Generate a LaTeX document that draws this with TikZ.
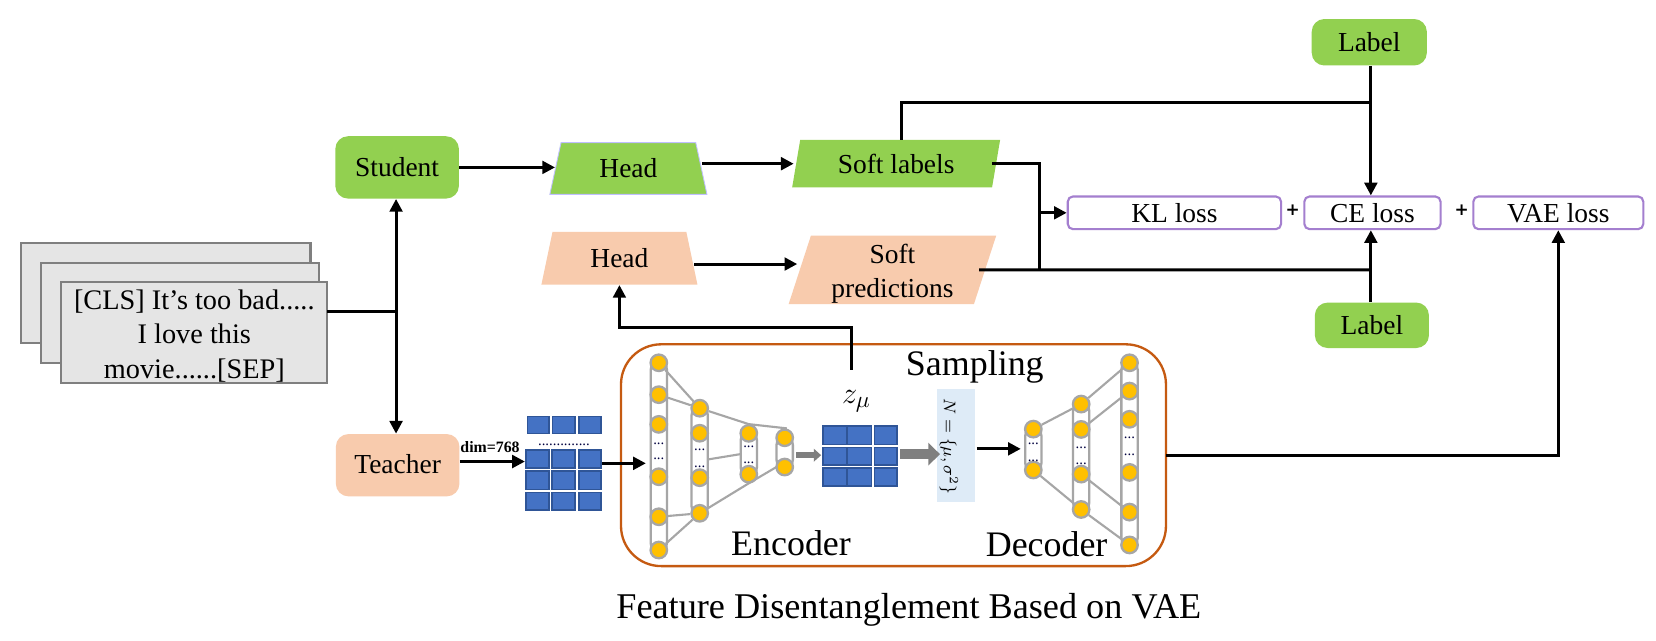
\documentclass[tikz,border=0pt]{standalone}
\usepackage{fontspec}
\setmainfont{Liberation Serif}
\newfontfamily\plusfont{DejaVu Sans}
\usetikzlibrary{arrows.meta,shapes.geometric}
\definecolor{grn}{HTML}{92D050}
\definecolor{pch}{HTML}{F8CBAD}
\definecolor{purp}{HTML}{A47FCF}
\definecolor{nbord}{HTML}{A6A6A6}
\definecolor{nfill}{HTML}{FFC000}
\definecolor{cellf}{HTML}{4472C4}
\definecolor{cellb}{HTML}{2F5597}
\definecolor{ora}{HTML}{C55A11}
\definecolor{arrg}{HTML}{7F7F7F}
\definecolor{sampb}{HTML}{DEEBF7}
\tikzset{
  x=0.5pt,y=-0.5pt,
  txt/.style={font=\fontsize{13}{16}\selectfont,align=center,inner sep=0pt,text=black},
  big/.style={font=\fontsize{17}{20}\selectfont,inner sep=0pt,text=black},
  docbox/.style={draw=arrg,fill=black!10,line width=1pt},
  rbox/.style={txt,rounded corners=6pt,minimum width=58.5pt,minimum height=29.5pt},
  lossbox/.style={txt,draw=purp,fill=white,line width=1pt,rounded corners=2.5pt,minimum height=15.5pt},
  trap/.style={txt,trapezium,trapezium stretches=true,minimum width=74.5pt,minimum height=24.5pt,trapezium left angle=76,trapezium right angle=76},
  para/.style={txt,trapezium,trapezium stretches=true,trapezium left angle=76,trapezium right angle=104},
  conn/.style={line width=1.4pt,black},
  arr/.style={conn,-{Triangle[length=6pt,width=6pt]}},
  biarr/.style={conn,{Triangle[length=6pt,width=6pt]}-{Triangle[length=6pt,width=6pt]}},
  neu/.style={circle,draw=nbord,fill=nfill,line width=1.1pt,minimum size=7.8pt,inner sep=0pt},
  caps/.style={draw=nbord,fill=white,line width=1.1pt,rounded corners=3.8pt},
  nlink/.style={draw=nbord,line width=1pt},
  cell/.style={draw=cellb,fill=cellf,line width=0.7pt},
  vdots/.style={font=\fontsize{7}{8}\selectfont,inner sep=0pt,anchor=base,text=black!75!blue},
  plusn/.style={font=\plusfont\bfseries\fontsize{8}{9}\selectfont,inner sep=0pt}
}
\newcommand{\capsule}[3]{\draw[caps] (#1-7.7,#2-1) rectangle (#1+7.7,#3+1);}
\newcommand{\cellr}[4]{\draw[cell] (#1+0.7,#2+0.7) rectangle (#3-0.7,#4-0.7);}
\begin{document}
\begin{tikzpicture}
\useasboundingbox (0,0) rectangle (1568,606);
\fill[white] (0,0) rectangle (1568,606);

% input documents
\draw[docbox] (20,230) rectangle (294,325);
\draw[docbox] (39,249) rectangle (302,344);
\draw[docbox] (58,267) rectangle (310,363);
\node[txt,font=\fontsize{13.4}{16.4}\selectfont] (doc) at (184,318) {[CLS] It’s too bad.....\\I love this\\movie......[SEP]};
\coordinate (docout) at (310,295);
\coordinate (split) at (375,295);

% main boxes
\node[rbox,fill=grn] (student) at (376,158.5) {\raisebox{-0.4pt}{Student}};
\node[rbox,fill=pch] (teacher) at (376.5,440.5) {\raisebox{1.5pt}{Teacher}};
\node[trap,fill=grn,draw=blue!25!white,line width=0.4pt] (headg) at (595,159.5) {Head};
\node[trap,fill=pch,minimum width=74pt,minimum height=25pt] (headp) at (586.5,244.5) {\raisebox{-0.5pt}{Head}};
\node[para,fill=grn,minimum width=98.5pt,minimum height=22.5pt] (softl) at (848.5,155) {Soft labels};
\node[para,fill=pch,minimum width=99pt,minimum height=32.5pt] (softp) at (845,255.5) {\rule{0pt}{13pt}Soft\\predictions};
\node[rbox,fill=grn,minimum width=54.5pt,minimum height=22pt] (labt) at (1296.5,40) {Label};
\node[rbox,fill=grn,minimum width=54pt,minimum height=21.5pt] (labb) at (1299,308) {Label};
\node[lossbox,minimum width=101pt] (kl) at (1112,201.5) {KL loss};
\node[lossbox,minimum width=64.5pt] (ce) at (1299.5,201.5) {CE loss};
\node[lossbox,minimum width=80.5pt] (vae) at (1475.5,201.5) {VAE loss};
\node[plusn] (p1) at (1224,199) {+};
\node[plusn] (p2) at (1384,199) {+};

% VAE container
\draw[draw=ora,line width=1.1pt,fill=white,rounded corners=19pt] (588,326) rectangle (1104,536);
\coordinate (vaeout) at (1104,431);
\node[big] (sampling) at (923,347) {Sampling};
\node[big] (encoder) at (749,514) {Encoder};
\node[big] (decoder) at (991,515) {Decoder};
\node[big,font=\fontsize{17.15}{20}\selectfont] (title) at (860.5,577) {Feature Disentanglement Based on VAE};

% connectors upper part
\draw[conn] (docout) -- (split);
\draw[biarr] (student.south -| split) -- (teacher.north -| split);
\draw[arr] (student.east) -- (headg.west |- student.east);
\draw[arr] (headg.east |- softl.west) -- ([xshift=-1pt]softl.west);
\coordinate (peachy) at (0,250);
\draw[arr] ([xshift=1pt]headp.east |- peachy) -- ([xshift=-1pt]softp.west |- peachy);
\coordinate (bus) at (984,201.5);
\coordinate (busl) at (984,255.5);
\coordinate (cejoin) at (1298,255.5);
\coordinate (toptee) at (1298,97);
\coordinate (softtop) at (854,97);
\draw[conn] ([xshift=-2pt]softl.east) -| (busl);
\draw[arr] (bus) -- (kl.west);
\draw[conn] ([xshift=-3pt]softp.east) -- (cejoin);
\draw[conn] (labb.north -| cejoin) -- (cejoin);
\draw[arr] (cejoin) -- (cejoin |- ce.south);
\draw[arr] (labt.south -| toptee) -- (toptee |- ce.north);
\draw[conn] (softl.north -| softtop) -- (softtop) -- (toptee);
\draw[arr] (vaeout) -| (vae.south);

% head feedback
\coordinate (zout) at (806,350);
\coordinate (fb) at (806,310);
\draw[arr] (zout) -- (fb) -| (headp.south);

% input grid
\foreach \xa/\xb in {498.7/520.3,522.4/545.2,547.6/569.8}{\cellr{\xa}{393.6}{\xb}{411}}
\foreach \ya/\yb in {425.3/443.9,445.2/464,465.6/483.6}{
  \foreach \xa/\xb in {497.5/520.3,522/545.2,547.6/569.8}{\cellr{\xa}{\ya}{\xb}{\yb}}}
\node[vdots] (griddots) at (534,422) {..............};
\coordinate (gridw) at (497,437);
\coordinate (gride) at (570,438.7);
\draw[arr] (teacher.east |- gridw) -- (gridw);
\node[inner sep=0pt,font=\fontsize{7.5}{9}\selectfont\bfseries] (dim) at (464,423) {dim=768};

% encoder
\capsule{623.8}{343.5}{520.8}
\capsule{662.5}{386.5}{486}
\capsule{709}{410.3}{449}
\capsule{743}{414.5}{442.2}
\foreach \n/\y in {1/343.5,2/373.7,3/401.8,4/451.4,5/489.3,6/520.8}{\node[neu] (ea\n) at (623.8,\y) {};}
\foreach \n/\y in {1/386.5,2/410.2,3/452.3,4/486}{\node[neu] (eb\n) at (662.5,\y) {};}
\foreach \n/\y in {1/410.3,2/449}{\node[neu] (ec\n) at (709,\y) {};}
\foreach \n/\y in {1/414.5,2/442.2}{\node[neu] (ed\n) at (743,\y) {};}
\draw[nlink] (ea1) -- (eb1);
\draw[nlink] (ea2) -- (eb1);
\draw[nlink] (ea5) -- (eb4);
\draw[nlink] (ea6) -- (eb4);
\coordinate (ectop) at (709,401.6);
\coordinate (edtop) at (745,405.6);
\coordinate (ecbot) at (709,457.6);
\coordinate (edbot) at (735.5,442);
\coordinate (ebm) at (670.5,435);
\coordinate (ecm) at (701,430);
\draw[nlink] (eb1) -- (ectop) -- (edtop);
\draw[nlink] (eb4) -- (ecbot) -- (edbot);
\draw[nlink] (ebm) -- (ecm);
\foreach \x/\y in {623.8/420.5,623.8/435.5,662.5/427,662.5/443,709/423.5,709/439}{\node[vdots] at (\x,\y) {...};}
\coordinate (encin) at (611.5,438.7);
\draw[arr] (gride) -- (encin);

% latent grid
\foreach \ya/\yb in {402.5/421.6,422.9/441.2,442.5/461}{
  \foreach \xa/\xb in {778.7/802.4,801.6/826,827.2/850}{\cellr{\xa}{\ya}{\xb}{\yb}}}
\node[inner sep=0pt,font=\fontsize{15}{17}\selectfont] (zmu) at (811,380) {$z_\mu$};
\coordinate (zw) at (777.5,431);
\coordinate (ze) at (852,430);
\coordinate (edout) at (753.8,431);
\draw[draw=arrg,line width=3pt,-{Triangle[length=3.5pt,width=6pt,fill=arrg]}] (edout) -- (zw);

% sampling
\node[fill=sampb,minimum width=18pt,minimum height=53.5pt,inner sep=0pt] (samp) at (905,421.5) {};
\node[rotate=-90,inner sep=0pt,font=\fontsize{8.5}{10}\selectfont] (sampt) at (898.5,422.5) {$N=\{\mu,\sigma^2\}$};
\coordinate (samptip) at (890,430);
\draw[draw=arrg,line width=4.75pt,-{Triangle[length=5.5pt,width=10.5pt,fill=arrg]}] (ze) -- (samptip);
\coordinate (sampout) at (925,425);
\coordinate (decin) at (966.5,425);
\draw[arr] (sampout) -- (decin);

% decoder
\capsule{978.4}{406.3}{445}
\capsule{1023.7}{382.6}{482.4}
\capsule{1069.5}{343.5}{516}
\foreach \n/\y in {1/406.3,2/445}{\node[neu] (da\n) at (978.4,\y) {};}
\foreach \n/\y in {1/382.6,2/406.6,3/448.9,4/482.4}{\node[neu] (db\n) at (1023.7,\y) {};}
\foreach \n/\y in {1/343.5,2/370.3,3/397,4/447.3,5/484.9,6/516}{\node[neu] (dc\n) at (1069.5,\y) {};}
\draw[nlink] (da1) -- (db1);
\draw[nlink] (da2) -- (db4);
\draw[nlink] (db1) -- (dc1);
\draw[nlink] (db2) -- (dc2);
\draw[nlink] (db3) -- (dc5);
\draw[nlink] (db4) -- (dc6);
\foreach \x/\y in {978.4/420.5,978.4/436.5,1023.7/424.5,1023.7/440,1069.5/415,1069.5/431}{\node[vdots] at (\x,\y) {...};}
\end{tikzpicture}
\end{document}
